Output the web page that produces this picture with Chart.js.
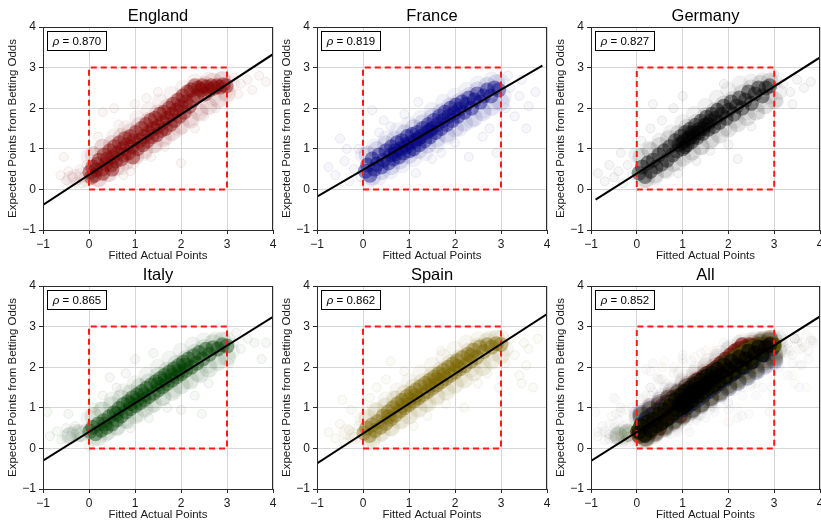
<!DOCTYPE html>
<html>
<head>
<meta charset="utf-8">
<script src="https://cdn.jsdelivr.net/npm/chart.js@4/dist/chart.umd.min.js"></script>
<style>
  html, body { margin: 0; padding: 0; width: 821px; height: 521px; overflow: hidden; background: #fff; }
  canvas { position: absolute; }
</style>
</head>
<body>
<script>
// ---- data ----
const leagues = ['England', 'France', 'Germany', 'Italy', 'Spain', 'All'];
const rhoValues = [0.870, 0.819, 0.827, 0.865, 0.862, 0.852];
const tickValues = [-1, 0, 1, 2, 3, 4];
const boxCorners = [[0, 0], [3, 0], [3, 3], [0, 3], [0, 0]];

// least-squares fit lines, endpoints [x, y]
const fitEngland = [[-1, -0.38], [4, 3.33]];
const fitFrance  = [[-1, -0.18], [3.9, 3.05]];
const fitGermany = [[-0.9, -0.25], [4, 3.25]];
const fitItaly   = [[-1, -0.30], [4, 3.24]];
const fitSpain   = [[-1, -0.37], [4, 3.31]];
const fitAll     = [[-1, -0.31], [4, 3.25]];

// match clouds: dense ridge, inner halo, band edges, stray matches
const englandCore = [
  [0.02,0.42],[0.08,0.55],[0.12,0.35],[0.18,0.62],[0.15,0.48],[0.05,0.30],
  [0.22,0.72],[0.28,0.50],[0.33,0.85],[0.37,0.62],[0.30,0.40],[0.40,0.75],
  [0.45,0.95],[0.48,0.60],[0.52,0.80],[0.55,1.05],[0.58,0.70],[0.50,0.50],
  [0.62,0.90],[0.66,1.15],[0.70,0.75],[0.73,1.00],[0.78,1.25],[0.76,0.85],
  [0.82,1.10],[0.86,0.90],[0.90,1.30],[0.93,1.05],[0.97,1.20],[0.95,0.80],
  [1.02,1.40],[1.05,1.00],[1.10,1.20],[1.14,1.50],[1.17,1.10],[1.20,1.30],
  [1.24,1.60],[1.27,1.20],[1.30,1.40],[1.34,1.70],[1.37,1.30],[1.40,1.50],
  [1.44,1.75],[1.47,1.35],[1.50,1.55],[1.54,1.85],[1.57,1.45],[1.60,1.65],
  [1.63,1.90],[1.66,1.50],[1.70,1.75],[1.74,2.00],[1.77,1.60],[1.80,1.85],
  [1.83,2.10],[1.86,1.70],[1.90,1.95],[1.94,2.20],[1.97,1.80],[2.00,2.05],
  [2.04,2.30],[2.07,1.90],[2.10,2.15],[2.14,2.40],[2.18,2.05],
  [2.22,2.45],[2.26,2.20],[2.30,2.55],[2.35,2.30],[2.38,2.50],
  [2.43,2.45],[2.47,2.55],[2.52,2.35],[2.56,2.52],
  [2.62,2.45],[2.66,2.55],[2.72,2.50],[2.78,2.55],
  [2.85,2.52],[2.92,2.58],[2.98,2.55]
];
const englandHalo = [
  [0.10,0.84],[0.30,1.02],[0.50,1.12],[0.71,1.29],[0.90,1.41],[1.10,1.57],[1.31,1.70],[1.50,1.87],[1.70,2.01],[1.91,2.15],[2.10,2.31],[2.30,2.45],[2.51,2.58],[2.70,2.66],[2.90,2.70],
  [0.20,0.27],[0.41,0.40],[0.60,0.55],[0.80,0.69],[1.01,0.83],[1.20,0.97],[1.40,1.11],[1.61,1.26],[1.80,1.41],[2.00,1.57],[2.21,1.72],[2.40,1.90],[2.60,2.05],[2.81,2.21],[3.00,2.36]
];
const englandEdge = [
  [0.00,0.80],[0.30,1.05],[0.55,1.30],[0.80,1.50],[1.05,1.75],[1.30,1.95],[1.55,2.15],[1.80,2.35],[2.05,2.50],[2.30,2.65],[2.60,2.70],[2.90,2.70],
  [0.20,0.25],[0.45,0.38],[0.70,0.55],[0.95,0.70],[1.20,0.90],[1.45,1.10],[1.70,1.30],[1.95,1.50],[2.20,1.75],[2.45,2.00],[2.70,2.25],[2.95,2.40],
  [-0.30,0.30],[-0.15,0.35],[-0.05,0.25],[-0.40,0.25],[3.10,2.60]
];
const englandStray = [
  [-0.62,0.35],[-0.50,0.22],[-0.45,0.45],[-0.35,0.30],[-0.28,0.18],[-0.20,0.50],[-0.12,0.30],[-0.05,0.60],[-0.55,0.80],
  [0.10,0.95],[0.20,1.30],[0.30,1.90],[0.55,2.00],[0.65,1.60],[1.00,2.10],[1.25,2.25],[0.90,0.45],[1.35,0.80],
  [1.65,1.05],[2.00,0.65],[2.30,1.50],[2.50,1.80],[3.05,2.50],[3.15,2.75],[3.30,2.60],[3.45,2.70],[3.55,2.45],
  [3.70,2.80],[3.85,2.65],[3.25,2.35],[2.75,2.00],[1.50,2.40],[0.75,0.35],[-0.15,0.15]
];

const franceCore = [
  [0.05,0.45],[0.10,0.60],[0.15,0.35],[0.20,0.75],[0.25,0.50],[0.30,0.62],
  [0.35,0.85],[0.40,0.55],[0.45,0.72],[0.50,0.95],[0.55,0.65],[0.60,0.85],
  [0.62,1.05],[0.66,0.75],[0.70,0.95],[0.74,1.15],[0.78,0.80],[0.82,1.00],
  [0.85,1.20],[0.88,0.90],[0.92,1.10],[0.96,1.30],[1.00,0.95],[1.03,1.15],
  [1.07,1.35],[1.10,1.00],[1.14,1.20],[1.18,1.40],[1.22,1.10],[1.26,1.30],
  [1.30,1.50],[1.34,1.20],[1.38,1.40],[1.42,1.60],[1.46,1.30],[1.50,1.50],
  [1.54,1.70],[1.58,1.40],[1.62,1.60],[1.66,1.80],[1.70,1.50],[1.74,1.70],
  [1.78,1.90],[1.82,1.60],[1.86,1.80],[1.90,2.00],[1.94,1.70],[1.98,1.88],
  [2.02,2.08],[2.06,1.80],[2.10,1.98],[2.15,2.15],[2.20,1.90],[2.25,2.10],
  [2.30,2.25],[2.36,2.00],[2.42,2.20],[2.48,2.35],[2.55,2.15],[2.62,2.30],
  [2.70,2.45],[2.78,2.30],[2.86,2.50],[2.95,2.45],
  [0.70,0.88],[0.95,1.05],[1.20,1.25],[1.45,1.45]
];
const franceHalo = [
  [0.10,0.86],[0.30,0.97],[0.50,1.11],[0.70,1.23],[0.91,1.38],[1.10,1.51],[1.30,1.63],[1.51,1.78],[1.70,1.90],[1.90,2.05],[2.10,2.16],[2.31,2.30],[2.50,2.44],[2.70,2.55],[2.90,2.62],
  [0.20,0.31],[0.40,0.45],[0.61,0.57],[0.80,0.71],[1.00,0.85],[1.21,0.97],[1.40,1.10],[1.60,1.25],[1.81,1.37],[2.00,1.50],[2.20,1.64],[2.41,1.76],[2.60,1.90],[2.80,2.03],[3.00,2.15]
];
const franceEdge = [
  [0.00,0.85],[0.25,1.05],[0.50,1.25],[0.75,1.45],[1.00,1.60],[1.25,1.75],[1.50,1.95],[1.75,2.15],[2.00,2.30],[2.25,2.45],[2.50,2.60],[2.80,2.70],[3.00,2.65],
  [0.10,0.20],[0.35,0.30],[0.60,0.45],[0.85,0.60],[1.10,0.75],[1.35,0.90],[1.60,1.10],[1.85,1.30],[2.10,1.50],[2.35,1.70],[2.60,1.95],[2.85,2.15],[3.05,2.30]
];
const franceStray = [
  [-0.75,0.55],[-0.60,0.35],[-0.50,1.25],[-0.40,0.70],[-0.30,0.20],[-0.20,0.50],[-0.10,1.00],[-0.35,1.00],[-0.05,0.30],
  [0.20,1.95],[0.35,1.40],[0.60,1.55],[0.90,1.85],[1.15,0.40],[1.50,0.75],[1.70,0.90],[2.00,1.15],[2.30,0.80],
  [2.60,1.30],[2.75,1.50],[2.90,0.90],[3.10,2.00],[3.20,2.50],[3.30,1.80],[3.40,2.30],[3.55,1.50],[3.60,2.05],
  [3.75,2.40],[3.45,2.70],[3.15,2.80],[1.20,2.15],[0.45,1.70]
];

const germanyCore = [
  [0.05,0.40],[0.12,0.55],[0.18,0.32],[0.24,0.65],[0.30,0.45],[0.36,0.72],
  [0.42,0.55],[0.48,0.85],[0.54,0.62],[0.60,0.95],[0.66,0.72],[0.72,1.05],
  [0.78,0.85],[0.84,1.20],[0.88,0.95],[0.92,1.10],[0.96,1.30],[1.00,1.00],
  [1.03,1.20],[1.06,1.40],[1.10,1.10],[1.13,1.28],[1.16,1.48],[1.20,1.18],
  [1.24,1.38],[1.28,1.58],[1.32,1.28],[1.36,1.48],[1.40,1.68],[1.44,1.38],
  [1.48,1.58],[1.52,1.78],[1.56,1.48],[1.60,1.68],[1.64,1.85],[1.68,1.55],
  [1.72,1.75],[1.76,1.95],[1.80,1.65],[1.85,1.85],[1.90,2.05],[1.95,1.75],
  [2.00,1.95],[2.06,2.15],[2.12,1.85],[2.18,2.05],[2.24,2.25],[2.30,2.00],
  [2.37,2.20],[2.44,2.40],[2.50,2.12],[2.58,2.35],[2.66,2.50],[2.74,2.30],[2.82,2.50],[2.90,2.55],
  [1.05,1.05],[1.15,1.25],[1.25,1.30],[1.35,1.40],[1.45,1.50],[1.55,1.60],[1.00,1.15],[1.20,1.40]
];
const germanyHalo = [
  [0.10,0.80],[0.30,0.95],[0.50,1.07],[0.70,1.24],[0.91,1.37],[1.10,1.52],[1.30,1.64],[1.51,1.81],[1.70,1.93],[1.90,2.09],[2.10,2.21],[2.31,2.37],[2.50,2.49],[2.70,2.60],[2.90,2.66],
  [0.20,0.25],[0.40,0.37],[0.61,0.50],[0.80,0.65],[1.00,0.78],[1.21,0.93],[1.40,1.06],[1.60,1.21],[1.81,1.35],[2.00,1.50],[2.20,1.63],[2.41,1.78],[2.60,1.92],[2.80,2.07],[3.00,2.20]
];
const germanyEdge = [
  [0.00,0.85],[0.25,1.00],[0.50,1.20],[0.75,1.40],[1.00,1.65],[1.25,1.85],[1.50,2.05],[1.75,2.25],[2.00,2.45],[2.25,2.60],[2.50,2.65],[2.75,2.68],[3.00,2.65],
  [0.15,0.22],[0.40,0.30],[0.65,0.45],[0.90,0.65],[1.15,0.85],[1.40,1.05],[1.65,1.25],[1.90,1.50],[2.15,1.70],[2.40,1.90],[2.65,2.10],[2.90,2.30],[3.10,2.40]
];
const germanyStray = [
  [-0.85,0.40],[-0.70,0.20],[-0.60,0.60],[-0.50,0.30],[-0.40,0.45],[-0.30,0.15],[-0.20,0.60],[-0.10,0.35],[-0.35,0.90],
  [0.10,1.20],[0.30,1.50],[0.55,1.70],[0.35,2.10],[0.80,2.00],[1.00,2.30],[0.90,0.40],[1.30,0.70],[1.60,0.95],
  [2.00,1.10],[2.20,0.75],[2.50,1.55],[2.70,1.85],[3.10,2.15],[3.20,2.60],[3.35,2.40],[3.50,2.70],[3.65,2.50],
  [3.80,2.65],[3.40,2.10],[3.00,2.85],[1.90,2.60]
];

const italyCore = [
  [0.02,0.42],[0.08,0.52],[0.14,0.36],[0.20,0.60],[0.26,0.45],[0.32,0.68],
  [0.38,0.52],[0.44,0.78],[0.50,0.60],[0.55,0.88],[0.60,0.70],[0.65,0.98],
  [0.70,0.80],[0.75,1.08],[0.80,0.90],[0.85,1.15],[0.90,0.98],[0.95,1.25],
  [1.00,1.05],[1.05,1.32],[1.10,1.12],[1.15,1.40],[1.20,1.20],[1.25,1.48],
  [1.30,1.28],[1.35,1.56],[1.40,1.36],[1.45,1.64],[1.50,1.44],[1.55,1.72],
  [1.60,1.52],[1.65,1.80],[1.70,1.60],[1.75,1.88],[1.80,1.68],[1.85,1.96],
  [1.90,1.76],[1.95,2.04],[2.00,1.84],[2.05,2.12],[2.10,1.92],[2.16,2.20],
  [2.22,2.00],[2.28,2.28],[2.34,2.10],[2.40,2.36],[2.47,2.20],[2.54,2.44],
  [2.62,2.32],[2.70,2.48],[2.80,2.45],[2.90,2.55],[3.00,2.52],
  [0.60,0.85],[0.90,1.10],[1.20,1.32],[1.50,1.58],[1.80,1.80],[2.10,2.05],[0.35,0.60],[1.05,1.20],[1.65,1.68],[1.95,1.90]
];
const italyHalo = [
  [0.10,0.79],[0.30,0.94],[0.50,1.06],[0.70,1.23],[0.91,1.36],[1.10,1.51],[1.30,1.63],[1.51,1.79],[1.70,1.92],[1.90,2.08],[2.10,2.20],[2.31,2.36],[2.50,2.47],[2.70,2.60],[2.90,2.66],
  [0.20,0.28],[0.40,0.41],[0.61,0.54],[0.80,0.70],[1.00,0.82],[1.21,0.98],[1.40,1.10],[1.60,1.27],[1.81,1.39],[2.00,1.55],[2.20,1.67],[2.41,1.83],[2.60,1.96],[2.80,2.13],[3.00,2.25],
  [-0.20,0.38],[-0.40,0.32]
];
const italyEdge = [
  [0.00,0.75],[0.25,0.95],[0.50,1.20],[0.75,1.40],[1.00,1.60],[1.25,1.80],[1.50,2.00],[1.75,2.20],[2.00,2.40],[2.25,2.55],[2.50,2.65],[2.75,2.68],[3.00,2.68],
  [0.10,0.25],[0.35,0.35],[0.60,0.50],[0.85,0.68],[1.10,0.85],[1.35,1.05],[1.60,1.25],[1.85,1.45],[2.10,1.65],[2.35,1.85],[2.60,2.05],[2.85,2.25],[3.10,2.40],
  [-0.30,0.40],[-0.15,0.35],[-0.45,0.30]
];
const italyStray = [
  [-0.85,0.30],[-0.70,0.42],[-0.60,0.22],[-0.50,0.50],[-0.40,0.30],[-0.30,0.55],[-0.20,0.28],[-0.10,0.48],[-0.90,0.90],[-0.45,0.85],
  [0.10,1.00],[0.30,1.30],[0.45,1.75],[0.60,1.50],[0.80,1.85],[1.00,2.20],[0.90,0.50],[1.30,0.75],[1.70,1.00],
  [2.00,0.95],[2.30,1.30],[2.45,0.85],[2.60,1.60],[3.05,2.10],[3.15,2.60],[3.30,2.45],[3.45,2.70],[3.60,2.60],
  [3.75,2.20],[3.85,2.60],[3.20,2.85],[1.40,2.35],[0.00,0.05]
];

const spainCore = [
  [0.02,0.38],[0.08,0.50],[0.14,0.32],[0.20,0.58],[0.26,0.44],[0.32,0.66],
  [0.38,0.52],[0.44,0.80],[0.50,0.62],[0.55,0.90],[0.60,0.72],[0.65,1.00],
  [0.70,0.82],[0.75,1.10],[0.80,0.92],[0.85,1.18],[0.90,1.00],[0.95,1.28],
  [1.00,1.08],[1.05,1.36],[1.10,1.16],[1.15,1.44],[1.20,1.24],[1.25,1.52],
  [1.30,1.32],[1.35,1.60],[1.40,1.40],[1.45,1.68],[1.50,1.48],[1.55,1.76],
  [1.60,1.56],[1.65,1.84],[1.70,1.64],[1.75,1.92],[1.80,1.72],[1.85,2.00],
  [1.90,1.80],[1.95,2.08],[2.00,1.88],[2.05,2.16],[2.10,1.96],[2.16,2.24],
  [2.22,2.04],[2.28,2.32],[2.34,2.14],[2.40,2.42],[2.47,2.24],[2.54,2.50],
  [2.62,2.38],[2.70,2.55],[2.80,2.50],[2.90,2.58],[3.00,2.56],
  [0.55,0.78],[0.85,1.05],[1.15,1.30],[1.45,1.55],[1.75,1.80],[2.05,2.02],[2.35,2.28],[1.00,1.20],[1.60,1.70]
];
const spainHalo = [
  [0.10,0.75],[0.30,0.91],[0.50,1.04],[0.70,1.21],[0.91,1.35],[1.10,1.50],[1.30,1.63],[1.51,1.80],[1.70,1.93],[1.90,2.10],[2.10,2.22],[2.31,2.39],[2.50,2.51],[2.70,2.63],[2.90,2.70],
  [0.20,0.23],[0.40,0.39],[0.61,0.52],[0.80,0.68],[1.00,0.81],[1.21,0.98],[1.40,1.11],[1.60,1.27],[1.81,1.40],[2.00,1.57],[2.20,1.70],[2.41,1.87],[2.60,2.00],[2.80,2.16],[3.00,2.30]
];
const spainEdge = [
  [0.00,0.72],[0.25,0.95],[0.50,1.20],[0.75,1.42],[1.00,1.65],[1.25,1.85],[1.50,2.05],[1.75,2.25],[2.00,2.45],[2.25,2.60],[2.50,2.68],[2.75,2.70],[3.00,2.72],
  [0.10,0.18],[0.35,0.32],[0.60,0.50],[0.85,0.70],[1.10,0.90],[1.35,1.10],[1.60,1.30],[1.85,1.50],[2.10,1.72],[2.35,1.95],[2.60,2.15],[2.85,2.35],[3.10,2.45],
  [-0.20,0.30],[-0.35,0.40]
];
const spainStray = [
  [-0.75,0.40],[-0.60,0.25],[-0.50,0.60],[-0.40,0.15],[-0.30,0.45],[-0.20,0.28],[-0.10,0.55],[-0.45,1.20],[-0.25,0.95],
  [0.15,1.25],[0.30,1.50],[0.50,1.70],[0.70,1.30],[0.90,1.90],[1.10,0.55],[1.40,0.80],[1.80,1.10],[2.20,1.00],
  [2.50,1.60],[2.70,1.85],[2.95,1.50],[3.10,2.10],[3.20,2.70],[3.30,2.30],[3.40,1.80],[3.50,2.60],[3.60,2.45],
  [3.70,1.50],[3.80,2.70],[3.55,2.05],[3.45,1.60],[1.70,2.40],[0.60,2.15]
];

// ---- per-league appearance ----
const leagueRgb = {
  England: '128,0,0',
  France:  '0,0,128',
  Germany: '0,0,0',
  Italy:   '0,62,0',
  Spain:   '122,100,0'
};
const leagueClouds = {
  England: [englandCore, englandHalo, englandEdge, englandStray],
  France:  [franceCore, franceHalo, franceEdge, franceStray],
  Germany: [germanyCore, germanyHalo, germanyEdge, germanyStray],
  Italy:   [italyCore, italyHalo, italyEdge, italyStray],
  Spain:   [spainCore, spainHalo, spainEdge, spainStray]
};
// drawing order in the pooled panel (last listed sits on top)
const pooledOrder = ['England', 'France', 'Italy', 'Spain', 'Germany'];
const leagueFits = { England: fitEngland, France: fitFrance, Germany: fitGermany, Italy: fitItaly, Spain: fitSpain, All: fitAll };

// ---- layout: plot-area origin of each panel ----
const AREA_W = 230, AREA_H = 203;
const PAD_L = 43, PAD_T = 27, PAD_R = 12, PAD_B = 40;
const panelOrigins = [[43, 27], [317, 27], [591, 27], [43, 286], [317, 286], [591, 286]];

Chart.defaults.font.family = '"Liberation Sans", Arial, Helvetica, sans-serif';
Chart.defaults.color = '#1a1a1a';

const toXY = pts => pts.map(([x, y]) => ({ x, y }));

function cloudSets(name, pooled, rank) {
  const rgb = leagueRgb[name];
  const [core, halo, edge, stray] = leagueClouds[name];
  const base = 10 + (pooled ? (4 - rank) * 4 : 0);
  const layer = (pts, order, r, fill, line) => ({
    data: toXY(pts), order,
    pointRadius: r,
    pointBackgroundColor: `rgba(${rgb},${fill})`,
    pointBorderColor: `rgba(${rgb},${line})`,
    pointBorderWidth: line > 0 ? 1 : 0
  });
  return [
    layer(stray, base + 3, 4.5, pooled ? 0.02 : 0.035, pooled ? 0.04 : 0.08),
    layer(edge,  base + 2, 8,   pooled ? 0.035 : 0.055, pooled ? 0.02 : 0.03),
    layer(halo,  base + 1, 9,   pooled ? 0.15 : 0.11,  0),
    layer(core,  base,     7.5, pooled ? 0.6 : 0.42,   0)
  ];
}

function axis(titleText, isY) {
  return {
    type: 'linear', min: -1, max: 4,
    afterBuildTicks: s => { s.ticks = tickValues.map(v => ({ value: v })); },
    ticks: {
      padding: 3, font: { size: 12 }, color: '#1a1a1a', autoSkip: false, maxRotation: 0,
      callback: v => (v < 0 ? '\u2212' + Math.abs(v) : String(v))
    },
    grid: { color: '#d6d6d6', lineWidth: 1, drawTicks: true, tickLength: 4, tickColor: '#2b2b2b' },
    border: { display: false },
    title: {
      display: true, text: titleText, color: '#1a1a1a', font: { size: 11.5 },
      padding: isY ? { top: 6, bottom: 0 } : { top: 0, bottom: 7 }
    },
    afterFit: s => { if (isY) s.width = PAD_L; else s.height = PAD_B; }
  };
}

// frame, panel title and correlation box
const panelDecor = {
  id: 'panelDecor',
  afterDraw(chart, args, opts) {
    const { ctx, chartArea: a } = chart;
    ctx.save();
    ctx.strokeStyle = '#2b2b2b';
    ctx.lineWidth = 1;
    const L = Math.floor(a.left) + 0.5, T = Math.floor(a.top) + 0.5;
    const R = Math.floor(a.right) - 0.5, B = Math.floor(a.bottom) + 0.5;
    ctx.strokeRect(L, T, R - L, B - T);

    ctx.fillStyle = '#000';
    ctx.font = '16.5px "Liberation Sans", Arial, sans-serif';
    ctx.textAlign = 'center';
    ctx.textBaseline = 'alphabetic';
    ctx.fillText(opts.title, (a.left + a.right) / 2, a.top - 6);

    const rhoFont = 'italic 11.5px "Liberation Sans", Arial, sans-serif';
    const numFont = '11.5px "Liberation Sans", Arial, sans-serif';
    const rest = ' = ' + opts.rho.toFixed(3);
    ctx.font = rhoFont; const w1 = ctx.measureText('\u03C1').width;
    ctx.font = numFont; const w2 = ctx.measureText(rest).width;
    const bx = Math.floor(a.left) + 4.5, by = Math.floor(a.top) + 4.5;
    const bw = Math.round(w1 + w2 + 11), bh = 19;
    ctx.fillStyle = '#fff';
    ctx.fillRect(bx, by, bw, bh);
    ctx.strokeStyle = '#000';
    ctx.strokeRect(bx, by, bw, bh);
    ctx.fillStyle = '#000';
    ctx.textAlign = 'left';
    ctx.textBaseline = 'middle';
    const tx = bx + (bw - w1 - w2) / 2, ty = by + bh / 2 + 0.5;
    ctx.font = rhoFont; ctx.fillText('\u03C1', tx, ty);
    ctx.font = numFont; ctx.fillText(rest, tx + w1, ty);
    ctx.restore();
  }
};

leagues.forEach((name, i) => {
  const [ox, oy] = panelOrigins[i];
  const w = i % 3 === 2 ? AREA_W - 1 : AREA_W;
  const cv = document.createElement('canvas');
  cv.width = PAD_L + w + PAD_R;
  cv.height = PAD_T + AREA_H + PAD_B;
  cv.style.left = (ox - PAD_L) + 'px';
  cv.style.top = (oy - PAD_T) + 'px';
  document.body.appendChild(cv);

  let datasets = [];
  if (name === 'All') {
    pooledOrder.forEach((k, r) => { datasets = datasets.concat(cloudSets(k, true, r)); });
  } else {
    datasets = cloudSets(name, false, 0);
  }
  datasets.push({
    data: toXY(boxCorners), order: 1, showLine: true, pointRadius: 0,
    borderColor: 'rgb(255,25,25)', borderWidth: 2, borderDash: [6, 4], fill: false
  });
  datasets.push({
    data: toXY(leagueFits[name]), order: 0, showLine: true, pointRadius: 0,
    borderColor: '#000', borderWidth: 2, fill: false
  });

  new Chart(cv, {
    type: 'scatter',
    data: { datasets },
    options: {
      responsive: false, animation: false, events: [],
      devicePixelRatio: 1,
      layout: { padding: { left: 0, top: PAD_T, right: PAD_R, bottom: 0 } },
      plugins: {
        legend: { display: false }, tooltip: { enabled: false },
        panelDecor: { title: name, rho: rhoValues[i] }
      },
      scales: {
        x: axis('Fitted Actual Points', false),
        y: axis('Expected Points from Betting Odds', true)
      }
    },
    plugins: [panelDecor]
  });
});
</script>
</body>
</html>
